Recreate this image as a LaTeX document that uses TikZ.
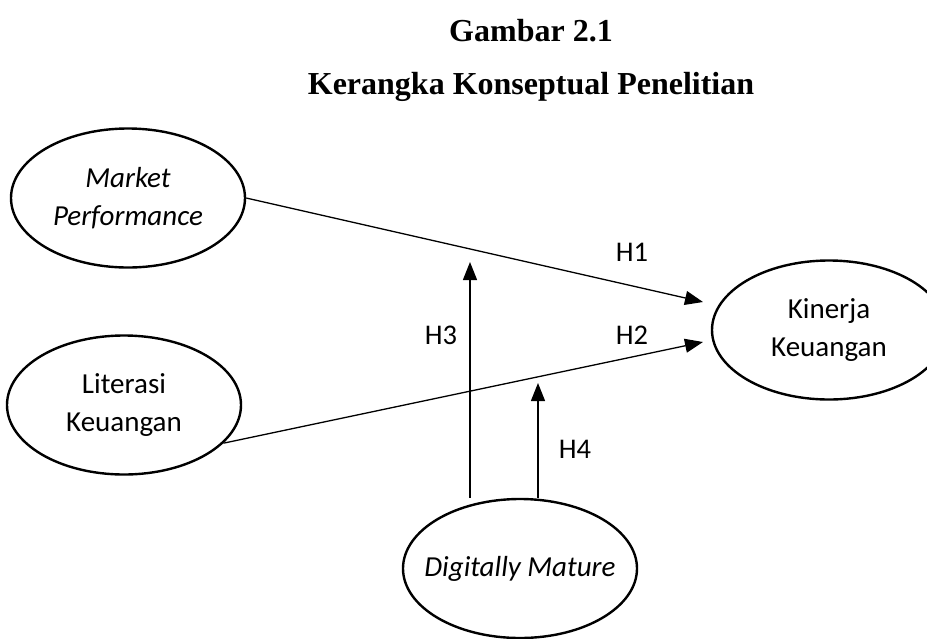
\documentclass[tikz,border=0pt]{standalone}
\usepackage{fontspec}
\setmainfont{Liberation Serif}
\newfontfamily\carlito{Carlito}
\usetikzlibrary{shapes.geometric,arrows.meta}
\tikzset{
  var/.style={ellipse, draw, line width=2.4pt, minimum width=234pt, minimum height=139pt, inner sep=0pt,
    align=center, font=\carlito\fontsize{29}{37.5}\selectfont},
  arr/.style={line width=1.3pt, -{Triangle[length=18pt,width=14pt]}},
  lbl/.style={font=\carlito\fontsize{28.5}{34}\selectfont},
  ttl/.style={font=\bfseries\fontsize{32}{38}\selectfont}
}
\begin{document}
\begin{tikzpicture}[x=1pt,y=-1pt]
\useasboundingbox (0,0) rectangle (927,638);
\clip (0,0) rectangle (927,638);
\node[ttl] (title1) at (531,31) {Gambar 2.1};
\node[ttl] (title2) at (531,87) {Kerangka Konseptual Penelitian};
\node[var] (mp) at (128,198) {\itshape Market\\\itshape Performance};
\node[var] (lk) at (124,405) {Literasi\\Keuangan};
\node[var] (kk) at (829,330) {Kinerja\\Keuangan};
\node[var, inner xsep=-20pt] (dm) at (520,568.5) {\itshape Digitally Mature};
\coordinate (t1) at (703,302);
\coordinate (t2) at (703,342);
\coordinate (t3) at (470,262);
\coordinate (t4) at (538,383);
\draw[arr] (mp.east) -- (t1);
\draw[arr] (lk.-21) -- (t2);
\draw[arr] (dm.north -| t3) -- (t3);
\draw[arr] (dm.north -| t4) -- (t4);
\node[lbl] (h1) at (632,252) {H1};
\node[lbl] (h2) at (632,335) {H2};
\node[lbl] (h3) at (441,335) {H3};
\node[lbl] (h4) at (575,449) {H4};
\end{tikzpicture}
\end{document}
